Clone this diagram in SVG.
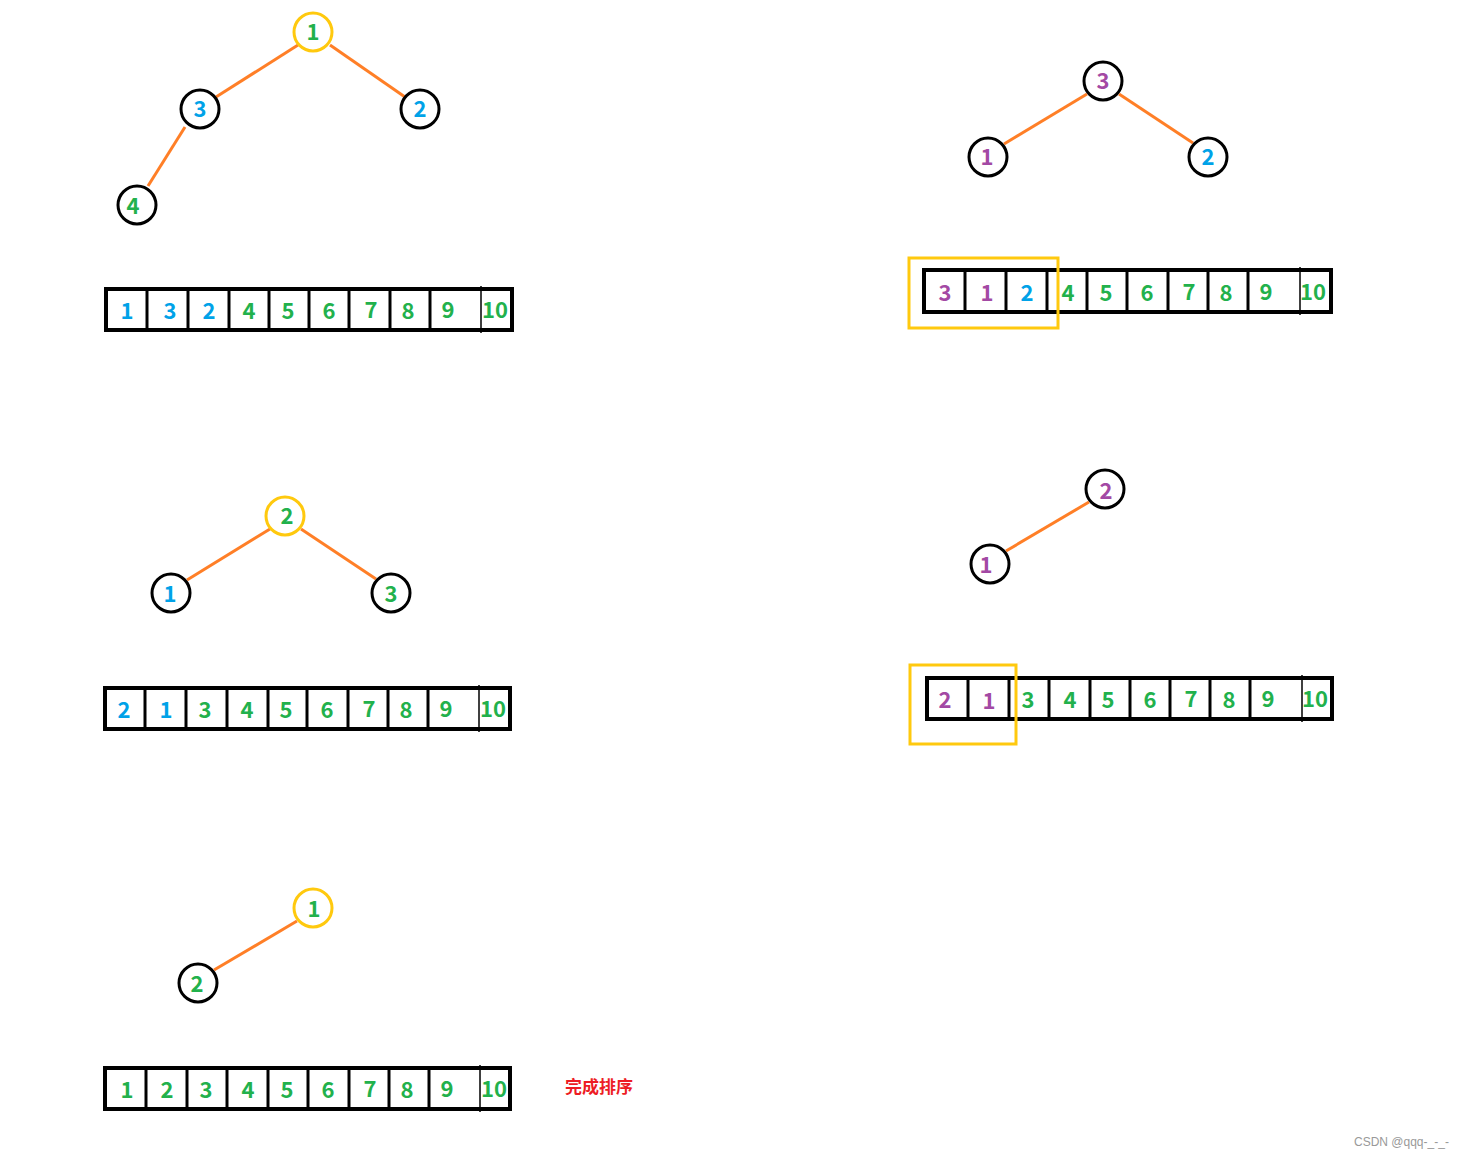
<svg xmlns="http://www.w3.org/2000/svg" width="1469" height="1155" viewBox="0 0 1469 1155">
<style>
.bg{fill:#fff}
.n{fill:#fff;stroke:#000;stroke-width:3}
.ny{fill:#fff;stroke:#ffc90e;stroke-width:3}
.e{stroke:#ff7f27;stroke-width:3;fill:none}
.box{fill:#fff;stroke:#000;stroke-width:4}
.dv{stroke:#000;stroke-width:3}
.dt{stroke:#000;stroke-width:1.5}
.sel{fill:none;stroke:#ffc90e;stroke-width:3}
text{font-family:"Noto Sans CJK SC","Noto Sans",sans-serif;font-size:22px;font-weight:700;text-anchor:middle;dominant-baseline:central}
.g{fill:#22b14c}.b{fill:#00a2e8}.p{fill:#a349a4}
.done{fill:#ed1c24;font-size:17px;font-weight:700;text-anchor:start}
.wm{fill:#999;font-family:"Liberation Sans",Arial,sans-serif;font-size:12px;font-weight:400;text-anchor:start}
</style>
<rect class="bg" width="1469" height="1155"/>
<g id="connectors">
<line class="e" x1="298" y1="45" x2="216" y2="97"/>
<line class="e" x1="330" y1="45" x2="405" y2="97"/>
<line class="e" x1="185" y1="127" x2="148" y2="186"/>
<line class="e" x1="1087" y1="94" x2="1004" y2="144"/>
<line class="e" x1="1119" y1="94" x2="1193" y2="143"/>
<line class="e" x1="270" y1="529" x2="187" y2="580"/>
<line class="e" x1="301" y1="529" x2="376" y2="579"/>
<line class="e" x1="1089" y1="502" x2="1006" y2="551"/>
<line class="e" x1="297" y1="921" x2="214" y2="970"/>
</g>
<g id="tree1">
<g id="t1n1"><circle class="ny" cx="313" cy="32" r="19"/><text class="g" x="313" y="30">1</text></g>
<g id="t1n3"><circle class="n" cx="200" cy="109" r="19"/><text class="b" x="200" y="107">3</text></g>
<g id="t1n2"><circle class="n" cx="420" cy="109" r="19"/><text class="b" x="420" y="107">2</text></g>
<g id="t1n4"><circle class="n" cx="137" cy="205" r="19"/><text class="g" x="133" y="204">4</text></g>
</g>
<g id="array1">
<rect class="box" x="106" y="289" width="406" height="41"/>
<line class="dv" x1="147" y1="289" x2="147" y2="330"/><line class="dv" x1="188" y1="289" x2="188" y2="330"/><line class="dv" x1="229" y1="289" x2="229" y2="330"/><line class="dv" x1="269" y1="289" x2="269" y2="330"/><line class="dv" x1="309" y1="289" x2="309" y2="330"/><line class="dv" x1="349" y1="289" x2="349" y2="330"/><line class="dv" x1="390" y1="289" x2="390" y2="330"/><line class="dv" x1="430" y1="289" x2="430" y2="330"/><line class="dt" x1="481" y1="286" x2="481" y2="333"/>
<text class="b" x="127" y="309">1</text><text class="b" x="170" y="309">3</text><text class="b" x="209" y="309">2</text><text class="g" x="249" y="309">4</text><text class="g" x="288" y="309">5</text><text class="g" x="329" y="309">6</text><text class="g" x="371" y="308">7</text><text class="g" x="408" y="309">8</text><text class="g" x="448" y="308">9</text><text class="g" x="495" y="308">10</text>
</g>
<g id="tree2">
<g id="t2n3"><circle class="n" cx="1103" cy="81" r="19"/><text class="p" x="1103" y="79">3</text></g>
<g id="t2n1"><circle class="n" cx="988" cy="157" r="19"/><text class="p" x="987" y="155">1</text></g>
<g id="t2n2"><circle class="n" cx="1208" cy="157" r="19"/><text class="b" x="1208" y="155">2</text></g>
</g>
<g id="array2">
<rect class="box" x="924" y="270" width="407" height="42"/>
<line class="dv" x1="965" y1="270" x2="965" y2="312"/><line class="dv" x1="1006" y1="270" x2="1006" y2="312"/><line class="dv" x1="1047" y1="270" x2="1047" y2="312"/><line class="dv" x1="1087" y1="270" x2="1087" y2="312"/><line class="dv" x1="1127" y1="270" x2="1127" y2="312"/><line class="dv" x1="1168" y1="270" x2="1168" y2="312"/><line class="dv" x1="1208" y1="270" x2="1208" y2="312"/><line class="dv" x1="1248" y1="270" x2="1248" y2="312"/><line class="dt" x1="1300" y1="267" x2="1300" y2="315"/>
<text class="p" x="945" y="291">3</text><text class="p" x="987" y="291">1</text><text class="b" x="1027" y="291">2</text><text class="g" x="1068" y="291">4</text><text class="g" x="1106" y="291">5</text><text class="g" x="1147" y="291">6</text><text class="g" x="1189" y="290">7</text><text class="g" x="1226" y="291">8</text><text class="g" x="1266" y="290">9</text><text class="g" x="1313" y="290">10</text>
<rect class="sel" x="909" y="258" width="149" height="70"/>
</g>
<g id="tree3">
<g id="t3n2"><circle class="ny" cx="285" cy="516" r="19"/><text class="g" x="287" y="514">2</text></g>
<g id="t3n1"><circle class="n" cx="171" cy="593" r="19"/><text class="b" x="170" y="592">1</text></g>
<g id="t3n3"><circle class="n" cx="391" cy="593" r="19"/><text class="g" x="391" y="592">3</text></g>
</g>
<g id="array3">
<rect class="box" x="105" y="688" width="405" height="41"/>
<line class="dv" x1="145" y1="688" x2="145" y2="729"/><line class="dv" x1="186" y1="688" x2="186" y2="729"/><line class="dv" x1="227" y1="688" x2="227" y2="729"/><line class="dv" x1="268" y1="688" x2="268" y2="729"/><line class="dv" x1="307" y1="688" x2="307" y2="729"/><line class="dv" x1="348" y1="688" x2="348" y2="729"/><line class="dv" x1="388" y1="688" x2="388" y2="729"/><line class="dv" x1="428" y1="688" x2="428" y2="729"/><line class="dt" x1="479" y1="685" x2="479" y2="732"/>
<text class="b" x="124" y="708">2</text><text class="b" x="166" y="708">1</text><text class="g" x="205" y="708">3</text><text class="g" x="247" y="708">4</text><text class="g" x="286" y="708">5</text><text class="g" x="327" y="708">6</text><text class="g" x="369" y="707">7</text><text class="g" x="406" y="708">8</text><text class="g" x="446" y="707">9</text><text class="g" x="493" y="707">10</text>
</g>
<g id="tree4">
<g id="t4n2"><circle class="n" cx="1105" cy="489" r="19"/><text class="p" x="1106" y="489">2</text></g>
<g id="t4n1"><circle class="n" cx="990" cy="564" r="19"/><text class="p" x="986" y="563">1</text></g>
</g>
<g id="array4">
<rect class="box" x="927" y="678" width="405" height="41"/>
<line class="dv" x1="968" y1="678" x2="968" y2="719"/><line class="dv" x1="1009" y1="678" x2="1009" y2="719"/><line class="dv" x1="1049" y1="678" x2="1049" y2="719"/><line class="dv" x1="1090" y1="678" x2="1090" y2="719"/><line class="dv" x1="1130" y1="678" x2="1130" y2="719"/><line class="dv" x1="1170" y1="678" x2="1170" y2="719"/><line class="dv" x1="1210" y1="678" x2="1210" y2="719"/><line class="dv" x1="1250" y1="678" x2="1250" y2="719"/><line class="dt" x1="1302" y1="675" x2="1302" y2="722"/>
<text class="p" x="945" y="698">2</text><text class="p" x="989" y="699">1</text><text class="g" x="1028" y="698">3</text><text class="g" x="1070" y="698">4</text><text class="g" x="1108" y="698">5</text><text class="g" x="1150" y="698">6</text><text class="g" x="1191" y="697">7</text><text class="g" x="1229" y="698">8</text><text class="g" x="1268" y="697">9</text><text class="g" x="1315" y="697">10</text>
<rect class="sel" x="910" y="665" width="106" height="79"/>
</g>
<g id="tree5">
<g id="t5n1"><circle class="ny" cx="313" cy="908" r="19"/><text class="g" x="314" y="907">1</text></g>
<g id="t5n2"><circle class="n" cx="198" cy="983" r="19"/><text class="g" x="197" y="982">2</text></g>
</g>
<g id="array5">
<rect class="box" x="105" y="1068" width="405" height="41"/>
<line class="dv" x1="146" y1="1068" x2="146" y2="1109"/><line class="dv" x1="187" y1="1068" x2="187" y2="1109"/><line class="dv" x1="227" y1="1068" x2="227" y2="1109"/><line class="dv" x1="268" y1="1068" x2="268" y2="1109"/><line class="dv" x1="308" y1="1068" x2="308" y2="1109"/><line class="dv" x1="349" y1="1068" x2="349" y2="1109"/><line class="dv" x1="389" y1="1068" x2="389" y2="1109"/><line class="dv" x1="429" y1="1068" x2="429" y2="1109"/><line class="dt" x1="480" y1="1065" x2="480" y2="1112"/>
<text class="g" x="127" y="1088">1</text><text class="g" x="167" y="1088">2</text><text class="g" x="206" y="1088">3</text><text class="g" x="248" y="1088">4</text><text class="g" x="287" y="1088">5</text><text class="g" x="328" y="1088">6</text><text class="g" x="370" y="1087">7</text><text class="g" x="407" y="1088">8</text><text class="g" x="447" y="1087">9</text><text class="g" x="494" y="1087">10</text>
</g>
<text class="done" x="565" y="1085">完成排序</text>
<text class="wm" x="1354" y="1142">CSDN @qqq-_-_-</text>
</svg>
